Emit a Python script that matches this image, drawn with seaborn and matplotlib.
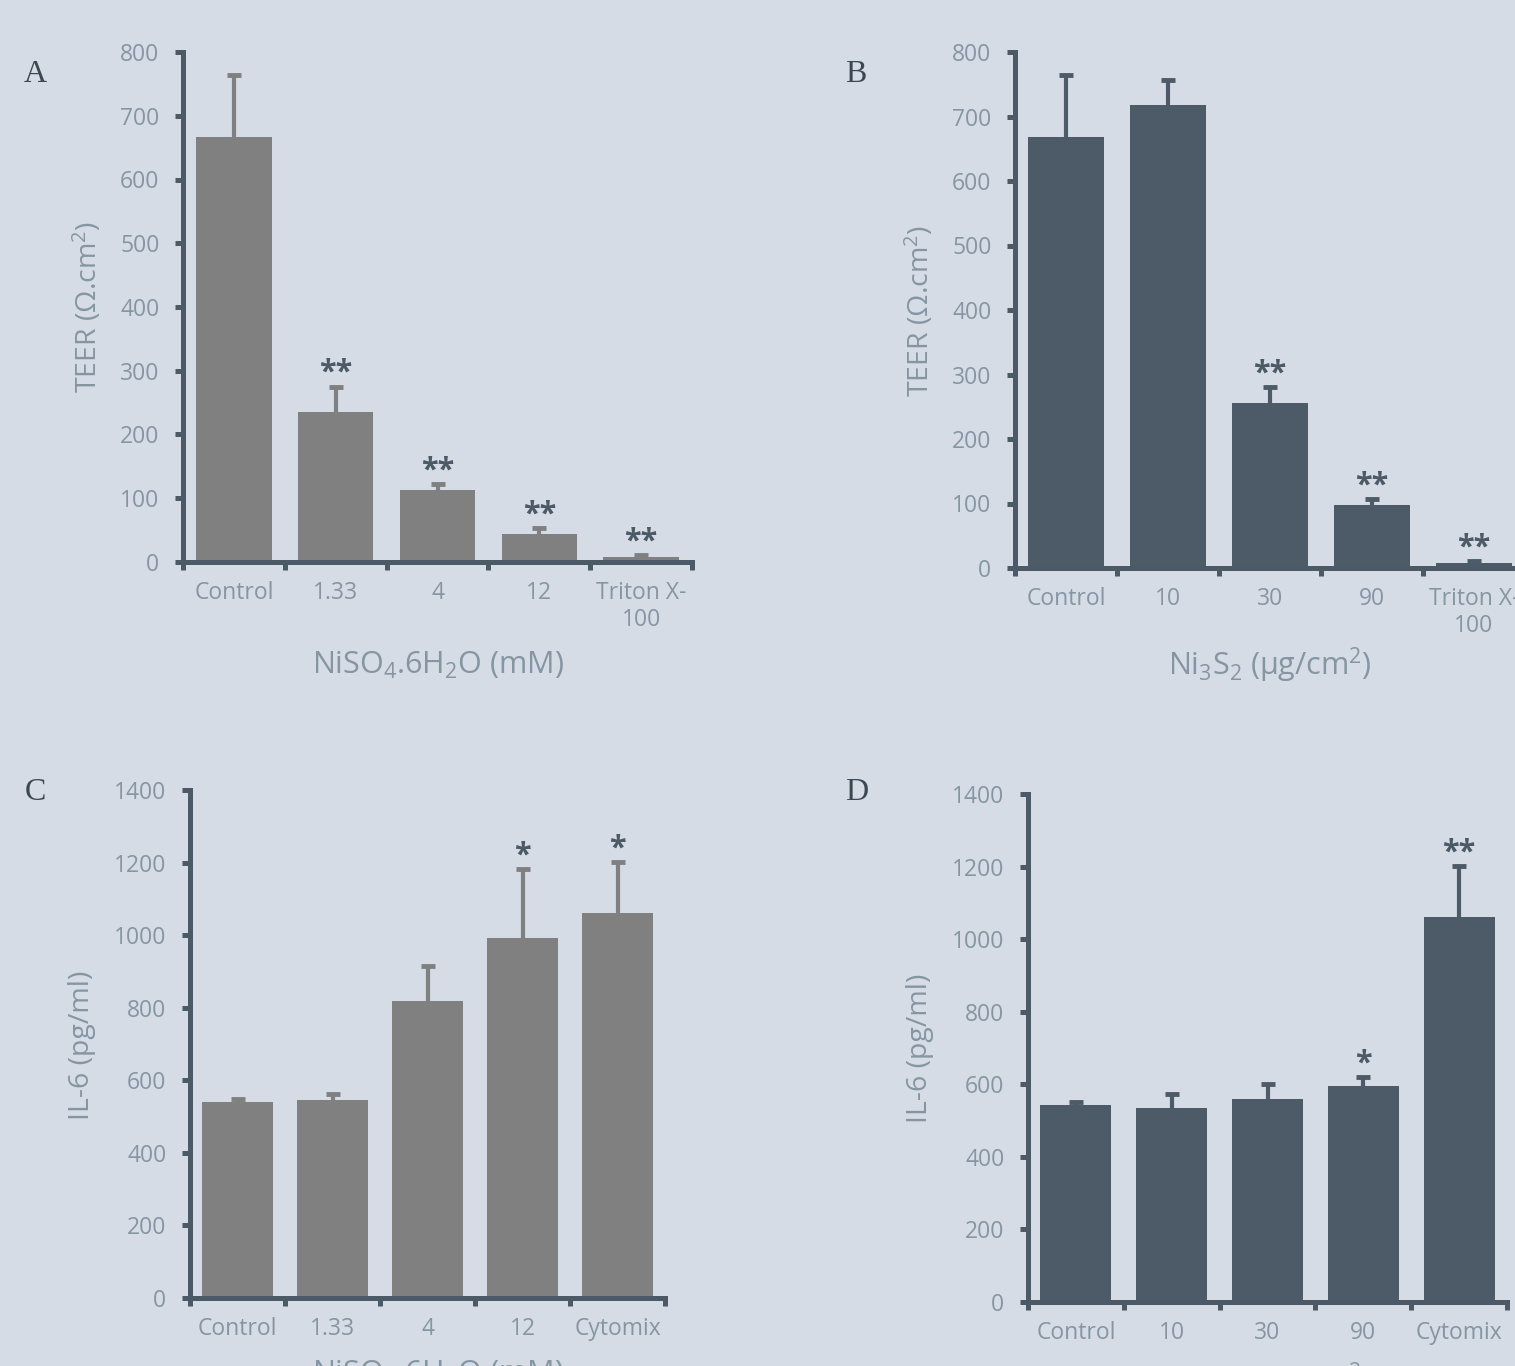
import numpy as np
import pandas as pd
import matplotlib
matplotlib.use("Agg")
import matplotlib.pyplot as plt
import seaborn as sns

# ---- data ----
cats_a = ["Control", "1.33", "4", "12", "Triton X-\n100"]
teer_a = [667, 235, 113, 44, 8]
teer_a_err = [97, 40, 9, 9, 3]
sig_a = ["", "**", "**", "**", "**"]

cats_b = ["Control", "10", "30", "90", "Triton X-\n100"]
teer_b = [668, 718, 256, 98, 8]
teer_b_err = [96, 39, 25, 9, 3]
sig_b = ["", "", "**", "**", "**"]

cats_c = ["Control", "1.33", "4", "12", "Cytomix"]
il6_c = [540, 546, 818, 992, 1061]
il6_c_err = [9, 16, 97, 190, 141]
sig_c = ["", "", "", "*", "*"]

cats_d = ["Control", "10", "30", "90", "Cytomix"]
il6_d = [543, 534, 559, 595, 1061]
il6_d_err = [8, 39, 41, 25, 140]
sig_d = ["", "", "", "*", "**"]

# ---- style ----
BG = "#d5dce6"
AXIS = "#4b5a66"
TICKTXT = "#8596a2"
GREY = "#808080"
SLATE = "#4c5b67"
STAR = "#4b5a66"

sns.set_theme(style="white")
plt.rcParams["font.family"] = ["Open Sans", "DejaVu Sans"]
plt.rcParams["mathtext.fontset"] = "custom"
plt.rcParams["mathtext.rm"] = "Open Sans"
plt.rcParams["mathtext.it"] = "Open Sans"

W, H = 1515, 1366
fig = plt.figure(figsize=(W / 100, H / 100), dpi=100, facecolor=BG)


def px_axes(left, top, right, bottom):
    return fig.add_axes([left / W, 1 - bottom / H, (right - left) / W, (bottom - top) / H])


def panel(ax, cats, vals, errs, sig, color, ymax, ystep):
    df = pd.DataFrame({"cat": cats, "val": vals})
    sns.barplot(data=df, x="cat", y="val", color=color, saturation=1,
                width=0.74, linewidth=0, ax=ax, errorbar=None)
    xs = np.arange(len(cats))
    _, caps, _ = ax.errorbar(xs, vals, yerr=[np.zeros(len(vals)), errs], fmt="none",
                             ecolor=color, elinewidth=3, capsize=5, capthick=3.5,
                             zorder=3)
    # only the upper caps are shown
    caps[0].set_visible(False)
    for x, v, e, s in zip(xs, vals, errs, sig):
        if s:
            ax.annotate(s, xy=(x, v + e), xytext=(0, -1),
                        textcoords="offset points", ha="center", va="bottom",
                        fontsize=22, color=STAR, fontweight="bold")
    ax.set_facecolor(BG)
    ax.set_xlim(-0.5, len(cats) - 0.5)
    ax.set_ylim(0, ymax)
    ax.set_yticks(np.arange(0, ymax + 1, ystep))
    ax.set_xticks(xs)
    ax.set_xticklabels(cats)
    ax.set_xticks(np.arange(-0.5, len(cats), 1.0), minor=True)
    ax.set_xlabel("")
    ax.set_ylabel("")
    for side in ("top", "right"):
        ax.spines[side].set_visible(False)
    for side in ("left", "bottom"):
        ax.spines[side].set_color(AXIS)
        ax.spines[side].set_linewidth(3.6)
        ax.spines[side].set_capstyle("projecting")
    ax.tick_params(axis="y", direction="out", length=6, width=3.6, color=AXIS,
                   labelsize=16.5, labelcolor=TICKTXT, pad=11, left=True)
    ax.tick_params(axis="x", which="major", length=0, labelsize=16.5,
                   labelcolor=TICKTXT, pad=14)
    ax.tick_params(axis="x", which="minor", direction="out", length=6,
                   width=3.6, color=AXIS, bottom=True)
    for lab in ax.get_xticklabels():
        lab.set_linespacing(1.15)
    ax.set_clip_on(False)


ax_a = px_axes(183, 52, 692, 562)
panel(ax_a, cats_a, teer_a, teer_a_err, sig_a, GREY, 800, 100)
ax_b = px_axes(1015, 52, 1525, 568)
panel(ax_b, cats_b, teer_b, teer_b_err, sig_b, SLATE, 800, 100)
ax_c = px_axes(190, 790, 665, 1298)
panel(ax_c, cats_c, il6_c, il6_c_err, sig_c, GREY, 1400, 200)
ax_d = px_axes(1028, 794, 1507, 1302)
panel(ax_d, cats_d, il6_d, il6_d_err, sig_d, SLATE, 1400, 200)


def ftext(x, y, s, **kw):
    fig.text(x / W, 1 - y / H, s, **kw)


ylab = dict(rotation=90, ha="center", va="center", fontsize=20.5, color=TICKTXT)
ftext(88, 307, r"TEER (Ω.cm$^2$)", **ylab)
ftext(920, 311, r"TEER (Ω.cm$^2$)", **ylab)
ftext(82, 1045, "IL-6 (pg/ml)", **ylab)
ftext(920, 1048, "IL-6 (pg/ml)", **ylab)

xlab = dict(ha="center", va="center", fontsize=22, color=TICKTXT)
ftext(438, 665, r"NiSO$_4$.6H$_2$O (mM)", **xlab)
ftext(1270, 665, r"Ni$_3$S$_2$ (μg/cm$^2$)", **xlab)
xlab_low = dict(xlab, va="top")
ftext(438, 1359, r"NiSO$_4$.6H$_2$O (mM)", **xlab_low)
ftext(1270, 1361, r"Ni$_3$S$_2$ (μg/cm$^2$)", **xlab_low)

letter = dict(ha="center", va="center", fontsize=23, color="#3b4853",
              family="Liberation Serif")
ftext(35, 75, "A", **letter)
ftext(856, 75, "B", **letter)
ftext(35, 792, "C", **letter)
ftext(857, 792, "D", **letter)

fig.savefig("out.png", dpi=100, facecolor=BG)
